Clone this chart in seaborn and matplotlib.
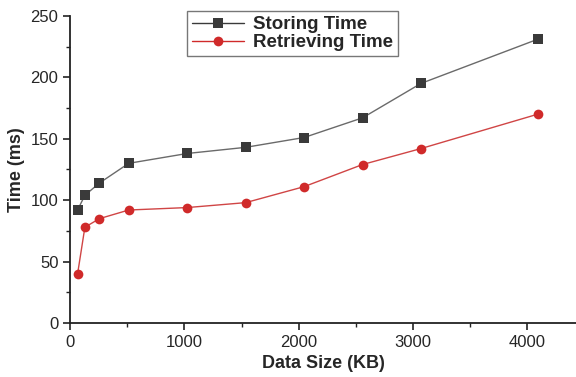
import matplotlib
matplotlib.use("Agg")
import matplotlib.pyplot as plt
from matplotlib.ticker import MultipleLocator
import seaborn as sns
import pandas as pd

data_size = [64, 128, 256, 512, 1024, 1536, 2048, 2560, 3072, 4096]
storing_time = [92, 104, 114, 130, 138, 143, 151, 167, 195, 231]
retrieving_time = [40, 78, 85, 92, 94, 98, 111, 129, 142, 170]

sns.set_theme(style="ticks")
plt.rcParams['font.family'] = ['Liberation Sans', 'DejaVu Sans']

df = pd.DataFrame({
    "size": data_size * 2,
    "time": storing_time + retrieving_time,
    "series": ["Storing Time"] * len(data_size) + ["Retrieving Time"] * len(data_size),
})

fig = plt.figure(figsize=(5.76, 3.77), dpi=100)
ax = fig.add_axes([0.122, 0.143, 0.878, 0.815])

sns.lineplot(data=df, x="size", y="time", hue="series", style="series",
             markers={"Storing Time": "s", "Retrieving Time": "o"},
             dashes=False,
             palette={"Storing Time": "#3a3a3a", "Retrieving Time": "#d02a2a"},
             markersize=7, linewidth=1.0, markeredgewidth=0, ax=ax)

for ln, c, fc in zip(ax.lines[:2], ["#6a6a6a", "#d04545"], ["#3a3a3a", "#d02a2a"]):
    ln.set_color(c)
    ln.set_markerfacecolor(fc)

ax.set_xlim(0, 4430)
ax.set_ylim(0, 250)
ax.xaxis.set_major_locator(MultipleLocator(1000))
ax.xaxis.set_minor_locator(MultipleLocator(500))
ax.yaxis.set_major_locator(MultipleLocator(50))
ax.yaxis.set_minor_locator(MultipleLocator(25))
ax.tick_params(which="major", direction="out", length=5, width=1.2, labelsize=12, color="#222222")
ax.tick_params(which="minor", direction="out", length=3, width=1.0, color="#222222")
for s in ["top", "right"]:
    ax.spines[s].set_visible(False)
for s in ["left", "bottom"]:
    ax.spines[s].set_linewidth(1.3)
    ax.spines[s].set_color("#222222")

ax.set_xlabel("Data Size (KB)", fontsize=13, fontweight="bold")
ax.set_ylabel("Time (ms)", fontsize=13, fontweight="bold")

handles, labels = ax.get_legend_handles_labels()
for h, fc in zip(handles, ["#3a3a3a", "#d02a2a"]):
    h.set_markerfacecolor(fc)
leg = ax.legend(handles, labels, loc="upper left", bbox_to_anchor=(0.212, 1.045),
                prop={"weight": "bold", "size": 13.5}, frameon=True, fancybox=False,
                handlelength=2.8, borderpad=0.25, labelspacing=0.05, handletextpad=0.5)
leg.get_frame().set_edgecolor("#555555")
leg.get_frame().set_linewidth(1.0)

fig.savefig("out.png", dpi=100)
